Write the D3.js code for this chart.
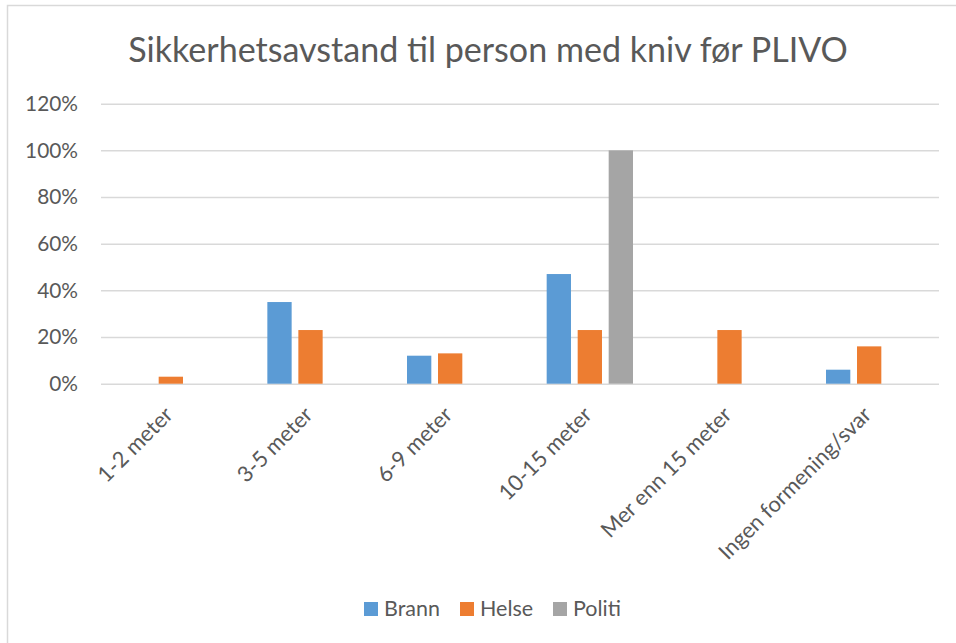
<!DOCTYPE html>
<html><head><meta charset="utf-8">
<script src="https://cdn.jsdelivr.net/npm/d3@7"></script>
<style>html,body{margin:0;padding:0;background:#fff;}svg{display:block;}</style>
</head><body>
<svg id="chart" width="956" height="643"></svg>
<script>
const categories = ["1-2 meter","3-5 meter","6-9 meter","10-15 meter","Mer enn 15 meter","Ingen formening/svar"];
const seriesNames = ["Brann","Helse","Politi"];
const brann  = [0, 35, 12, 47, 0, 6];
const helse  = [3, 23, 13, 23, 23, 16];
const politi = [0, 0, 0, 100, 0, 0];
const yTicks = [0, 20, 40, 60, 80, 100, 120];
const colors = ["#5B9BD5", "#ED7D31", "#A5A5A5"];
const title = "Sikkerhetsavstand til person med kniv før PLIVO";

const FONT = "Lato, 'Noto Sans', sans-serif";
const TXT = "#595959";
const svg = d3.select("#chart");

// chart frame
svg.append("rect").attr("x", 7.5).attr("y", 5.5).attr("width", 960).attr("height", 660)
  .attr("fill", "#fff").attr("stroke", "#d9d9d9").attr("stroke-width", 1.5);

const plot = {left: 101, right: 939, top: 103.7, bottom: 383.7};
const x0 = d3.scaleBand().domain(categories).range([plot.left, plot.right])
  .paddingInner(0.382).paddingOuter(0.191);
const x1 = d3.scaleBand().domain(seriesNames).range([0, x0.bandwidth()]).paddingInner(0.216);
const y = d3.scaleLinear().domain([0, 120]).range([plot.bottom, plot.top]);

function fit(sel, target, base) {
  sel.attr("font-size", base);
  const w = sel.node().getComputedTextLength();
  const fs = base * target / w;
  sel.attr("font-size", fs);
  return fs;
}

// title
const t = svg.append("text").attr("x", 488).attr("y", 62).attr("text-anchor", "middle")
  .attr("fill", TXT).attr("font-family", FONT).text(title);
fit(t, 720, 28);

// gridlines
const yAxis = d3.axisLeft(y).tickValues(yTicks).tickSize(-(plot.right - plot.left))
  .tickFormat(d => d + "%").tickPadding(23);
const gy = svg.append("g").attr("transform", `translate(${plot.left},0)`).call(yAxis);
gy.select(".domain").remove();
gy.selectAll(".tick line").attr("stroke", "#d9d9d9").attr("stroke-width", 1.5);
gy.selectAll(".tick text").attr("fill", TXT).attr("font-family", FONT);
const t120 = gy.selectAll(".tick text").filter(d => d === 120);
const yfs = fit(t120, 53, 20);
gy.selectAll(".tick text").attr("font-size", yfs);

// bars
const data = categories.map((c, i) => ({cat: c, vals: [brann[i], helse[i], politi[i]]}));
const groups = svg.append("g").selectAll("g").data(data).join("g")
  .attr("transform", d => `translate(${x0(d.cat)},0)`);
groups.selectAll("rect").data(d => d.vals.map((v, j) => ({s: seriesNames[j], v, j})).filter(e => e.v > 0))
  .join("rect")
  .attr("x", e => x1(e.s)).attr("width", x1.bandwidth())
  .attr("y", e => y(e.v)).attr("height", e => y(0) - y(e.v))
  .attr("fill", e => colors[e.j]);

// x labels
const xl = svg.append("g").selectAll("text").data(categories).join("text")
  .attr("transform", d => `translate(${x0(d) + x0.bandwidth() / 2 - 2},${plot.bottom + 27}) rotate(-45)`)
  .attr("text-anchor", "end").attr("dy", "0.35em")
  .attr("fill", TXT).attr("font-family", FONT).text(d => d);
const xfs = fit(xl.filter(d => d === "Ingen formening/svar"), 205, 20);
xl.attr("font-size", xfs);

// legend
const legX = [364, 460, 553];
const lg = svg.append("g").selectAll("g").data(seriesNames).join("g")
  .attr("transform", (d, i) => `translate(${legX[i]},602)`);
lg.append("rect").attr("width", 14).attr("height", 14).attr("fill", (d, i) => colors[i]);
const lt = lg.append("text").attr("x", 20).attr("y", 14).attr("fill", TXT)
  .attr("font-family", FONT).text(d => d);
const lfs = fit(lt.filter(d => d === "Brann"), 56, 20);
lt.attr("font-size", lfs);
</script>
</body></html>
